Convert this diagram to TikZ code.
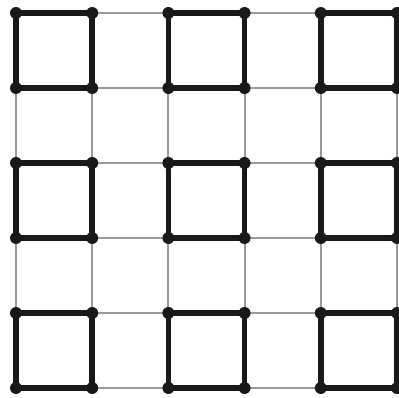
\documentclass[tikz,border=0pt]{standalone}
\begin{document}
\begin{tikzpicture}[x=1pt,y=-1pt,
  thinedge/.style={draw=black!40, line width=2pt},
  thickedge/.style={draw=black!90, line width=5.6pt, line join=miter},
  vdot/.style={circle, fill=black!90, inner sep=0pt, minimum size=12pt}]
\useasboundingbox (0,0) rectangle (399,398);
\foreach \i in {0,...,5}{
  \foreach \j in {0,...,5}{
    \coordinate (v\i\j) at ({16+76.2*\i},{13+75*\j});
  }
}
% thin grid edges
\foreach \i in {0,...,4}{
  \pgfmathtruncatemacro\k{\i+1}
  \foreach \j in {0,...,5}{
    \draw[thinedge] (v\i\j) -- (v\k\j);
    \draw[thinedge] (v\j\i) -- (v\j\k);
  }
}
% thick squares
\foreach \i in {0,2,4}{
  \pgfmathtruncatemacro\a{\i+1}
  \foreach \j in {0,2,4}{
    \pgfmathtruncatemacro\b{\j+1}
    \draw[thickedge] (v\i\j) -- (v\a\j) -- (v\a\b) -- (v\i\b) -- cycle;
  }
}
% vertices
\foreach \i in {0,...,5}{
  \foreach \j in {0,...,5}{
    \node[vdot] (d\i\j) at (v\i\j) {};
  }
}
\end{tikzpicture}
\end{document}
